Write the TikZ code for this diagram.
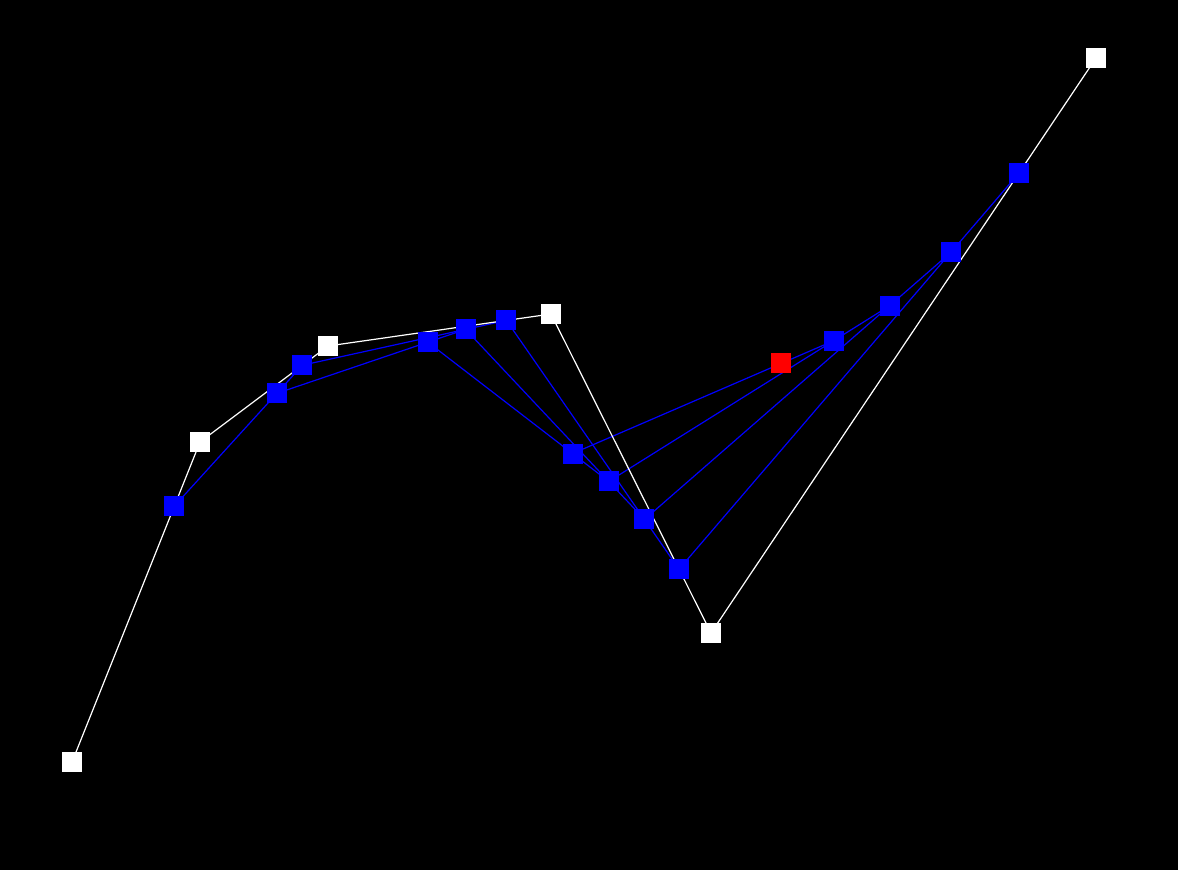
\documentclass[tikz,border=0pt]{standalone}
\usetikzlibrary{calc}
\definecolor{pblue}{RGB}{0,0,255}
\definecolor{pred}{RGB}{255,0,0}
\tikzset{
  ctrl/.style={fill=white,draw=none,minimum size=20pt,inner sep=0pt,outer sep=0pt,rectangle},
  mid/.style={fill=pblue,draw=none,minimum size=20pt,inner sep=0pt,outer sep=0pt,rectangle},
  res/.style={fill=pred,draw=none,minimum size=20pt,inner sep=0pt,outer sep=0pt,rectangle},
  poly/.style={draw=white,line width=1.2pt},
  cons/.style={draw=pblue,line width=1.2pt}
}
\begin{document}
\begin{tikzpicture}[x=1pt,y=-1pt]
\fill[black] (0,0) rectangle (1178,870);
\useasboundingbox (0,0) rectangle (1178,870);
\def\t{0.8}
\coordinate (P0) at (72,762);
\coordinate (P1) at (200,442);
\coordinate (P2) at (328,346);
\coordinate (P3) at (551,314);
\coordinate (P4) at (711,633);
\coordinate (P5) at (1096,58);
\coordinate (Q0) at ($(P0)!\t!(P1)$);
\coordinate (Q1) at ($(P1)!\t!(P2)$);
\coordinate (Q2) at ($(P2)!\t!(P3)$);
\coordinate (Q3) at ($(P3)!\t!(P4)$);
\coordinate (Q4) at ($(P4)!\t!(P5)$);
\coordinate (R0) at ($(Q0)!\t!(Q1)$);
\coordinate (R1) at ($(Q1)!\t!(Q2)$);
\coordinate (R2) at ($(Q2)!\t!(Q3)$);
\coordinate (R3) at ($(Q3)!\t!(Q4)$);
\coordinate (S0) at ($(R0)!\t!(R1)$);
\coordinate (S1) at ($(R1)!\t!(R2)$);
\coordinate (S2) at ($(R2)!\t!(R3)$);
\coordinate (T0) at ($(S0)!\t!(S1)$);
\coordinate (T1) at ($(S1)!\t!(S2)$);
\coordinate (U0) at ($(T0)!\t!(T1)$);
% construction lines
\draw[cons] (Q0) -- (Q1) -- (Q2) -- (Q3) -- (Q4);
\draw[cons] (R0) -- (R1) -- (R2) -- (R3);
\draw[cons] (S0) -- (S1) -- (S2);
\draw[cons] (T0) -- (T1);
% control polygon
\draw[poly] (P0) -- (P1) -- (P2) -- (P3) -- (P4) -- (P5);
% points
\foreach \p in {P0,P1,P2,P3,P4,P5} \node[ctrl] (n\p) at (\p) {};
\foreach \p in {Q0,Q1,Q2,Q3,Q4,R0,R1,R2,R3,S0,S1,S2,T0,T1} \node[mid] (n\p) at (\p) {};
\node[res] (nU0) at (U0) {};
\end{tikzpicture}
\end{document}
